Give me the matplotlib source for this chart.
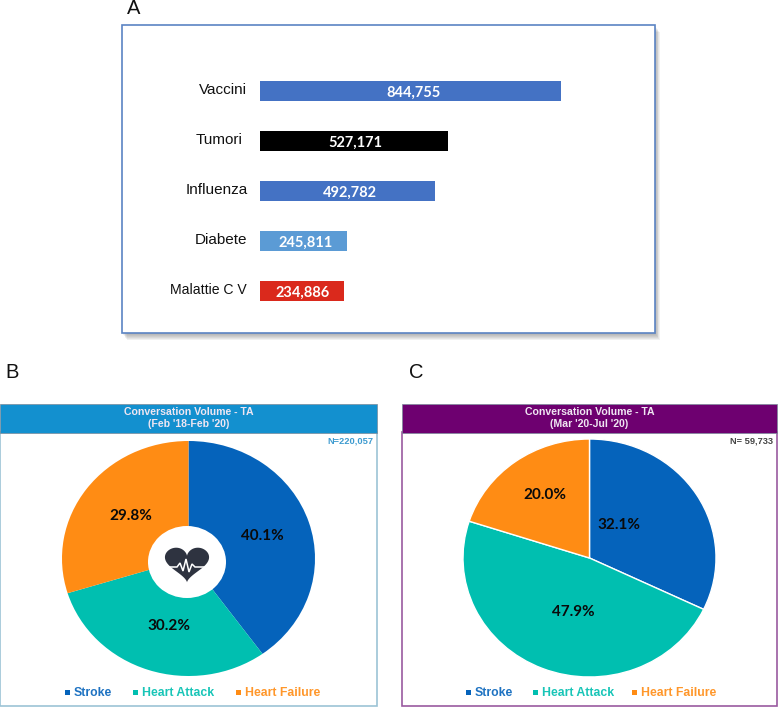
import numpy as np
import matplotlib
matplotlib.use("Agg")
import matplotlib.pyplot as plt
from matplotlib.patches import Rectangle, Ellipse, PathPatch
from matplotlib.path import Path

# ---- data ----
bar_categories = ["Vaccini", "Tumori", "Influenza", "Diabete", "Malattie C V"]
bar_values = [844755, 527171, 492782, 245811, 234886]
bar_colors = ["#4472C4", "#000000", "#4472C4", "#5B9BD5", "#DA291C"]

pie_labels = ["Stroke", "Heart Attack", "Heart Failure"]
pie_colors = ["#0563BB", "#00BFB0", "#FF8C14"]
pie_b_values = [40.1, 30.2, 29.8]
pie_c_values = [32.1, 47.9, 20.0]

W, H = 778, 707
fig = plt.figure(figsize=(W / 100, H / 100), dpi=100, facecolor="white")
bg = fig.add_axes([0, 0, 1, 1])
bg.set_xlim(0, W)
bg.set_ylim(H, 0)
bg.axis("off")


def axes_px(x0, y0, x1, y1, **kw):
    return fig.add_axes([x0 / W, 1 - y1 / H, (x1 - x0) / W, (y1 - y0) / H], **kw)


SANS = "Liberation Sans"
LABEL = "Lato"

# panel letters
for s, x, y in [("A", 134, 8), ("B", 12, 373), ("C", 416, 373)]:
    bg.text(x, y, s, fontsize=14.5, family=SANS, ha="center", va="center", color="#111111")

# ---- panel A ----
for i in range(7, 0, -1):
    bg.add_patch(Rectangle((122 + i * 0.7, 25 + i * 1.0), 533, 308, fc="#444444", alpha=0.07, ec="none"))
bg.add_patch(Rectangle((122, 25), 533, 308, fc="white", ec="#5B84C4", lw=1.2))

ax = axes_px(260, 66, 660, 316)
ax.patch.set_alpha(0)
y = np.arange(len(bar_values))
ax.barh(y, bar_values, height=0.41, color=bar_colors)
ax.set_xlim(0, 400 * 844755 / 300.5)
ax.set_ylim(4.5, -0.5)
ax.axis("off")
label_frac = [0.51, 0.51, 0.51, 0.525, 0.51]
for yi, v, fr in zip(y, bar_values, label_frac):
    ax.text(v * fr, yi + 0.03, f"{v:,}", color="white", fontsize=10.5,
            family=LABEL, weight="bold", ha="center", va="center")
label_right = [247, 243, 248, 247, 247]
for yi, c, xr in zip(y, bar_categories, label_right):
    bg.text(xr, 66 + 50 * (yi + 0.5) - 1.5, c, fontsize=11 if c != "Malattie C V" else 10.1,
            family=SANS, ha="right", va="center", color="#111111")


# ---- pies ----
ov = fig.add_axes([0, 0, 1, 1], zorder=10)
ov.set_xlim(0, W)
ov.set_ylim(H, 0)
ov.axis("off")
ov.patch.set_alpha(0)


def pie_panel(x0, x1, head_col, body_col, line1, line2, n_text, n_col, box, values, texts, legend_x, edge):
    bg.add_patch(Rectangle((x0, 432), x1 - x0, 274, fc="white", ec=body_col, lw=1.2))
    bg.add_patch(Rectangle((x0, 404), x1 - x0, 28.5, fc=head_col, ec="#7a8a99", lw=0.5))
    cx = (x0 + x1) / 2
    bg.text(cx, 412, line1, color="#EFE6F2", fontsize=7.6, family=SANS, weight="bold", ha="center", va="center")
    bg.text(cx, 424, line2, color="#EFE6F2", fontsize=7.6, family=SANS, weight="bold", ha="center", va="center")
    bg.text(x1 - 4, 441, n_text, color=n_col, fontsize=6.7, family=SANS, weight="bold", ha="right", va="center")

    pax = axes_px(*box)
    pax.pie(values, colors=pie_colors, startangle=90, counterclock=False, radius=1,
            wedgeprops=dict(edgecolor=edge, linewidth=1.0 if edge != "none" else 0))
    pax.set_aspect("auto")
    pax.set_xlim(-1, 1)
    pax.set_ylim(-1, 1)

    for (tx, ty), v in zip(texts, values):
        ov.text(tx, ty, f"{v:.1f}%", fontsize=11, family=LABEL, weight="bold", color="#0a0a0a",
                ha="center", va="center")

    for lx, lab, c in zip(legend_x, pie_labels, pie_colors):
        ov.add_patch(Rectangle((lx, 690), 5, 5, fc=c, ec="none"))
        ov.text(lx + 9, 692.5, lab, color=c, fontsize=8.8, family=SANS, weight="bold", ha="left", va="center",
                alpha=0.9)


pie_panel(0, 377, "#1390CF", "#9CC3D5", "Conversation Volume - TA", "(Feb '18-Feb '20)",
          "N=220,057", "#3D9BD0", (62, 441, 315, 676), pie_b_values,
          [(262, 536), (169, 626), (131, 516)], [65, 133, 236], "none")
pie_panel(402, 777, "#6E0070", "#9A5AA0", "Conversation Volume - TA", "(Mar '20-Jul '20)",
          "N= 59,733", "#444444", (463, 439, 716, 677), pie_c_values,
          [(619, 525), (573, 612), (545, 495)], [466, 533, 632], "#FFFFFF")

# centre hole and heart icon of panel B
ov.add_patch(Ellipse((187, 562), 78, 72, fc="white", ec="none"))
t = np.linspace(0, 2 * np.pi, 120)
hx = 16 * np.sin(t) ** 3
hy = 13 * np.cos(t) - 5 * np.cos(2 * t) - 2 * np.cos(3 * t) - np.cos(4 * t)
ov.add_patch(PathPatch(Path(np.c_[187 + hx * 1.38, 562 - hy * 1.2]), fc="#2E3340", ec="none"))
ecg_x = [166, 177, 180, 183, 186, 189, 192, 195, 207]
ecg_y = [567, 567, 563, 571, 559, 572, 564, 567, 567]
ov.plot(ecg_x, ecg_y, color="white", lw=1.1, solid_joinstyle="miter")

fig.savefig("out.png", dpi=100, facecolor="white")
